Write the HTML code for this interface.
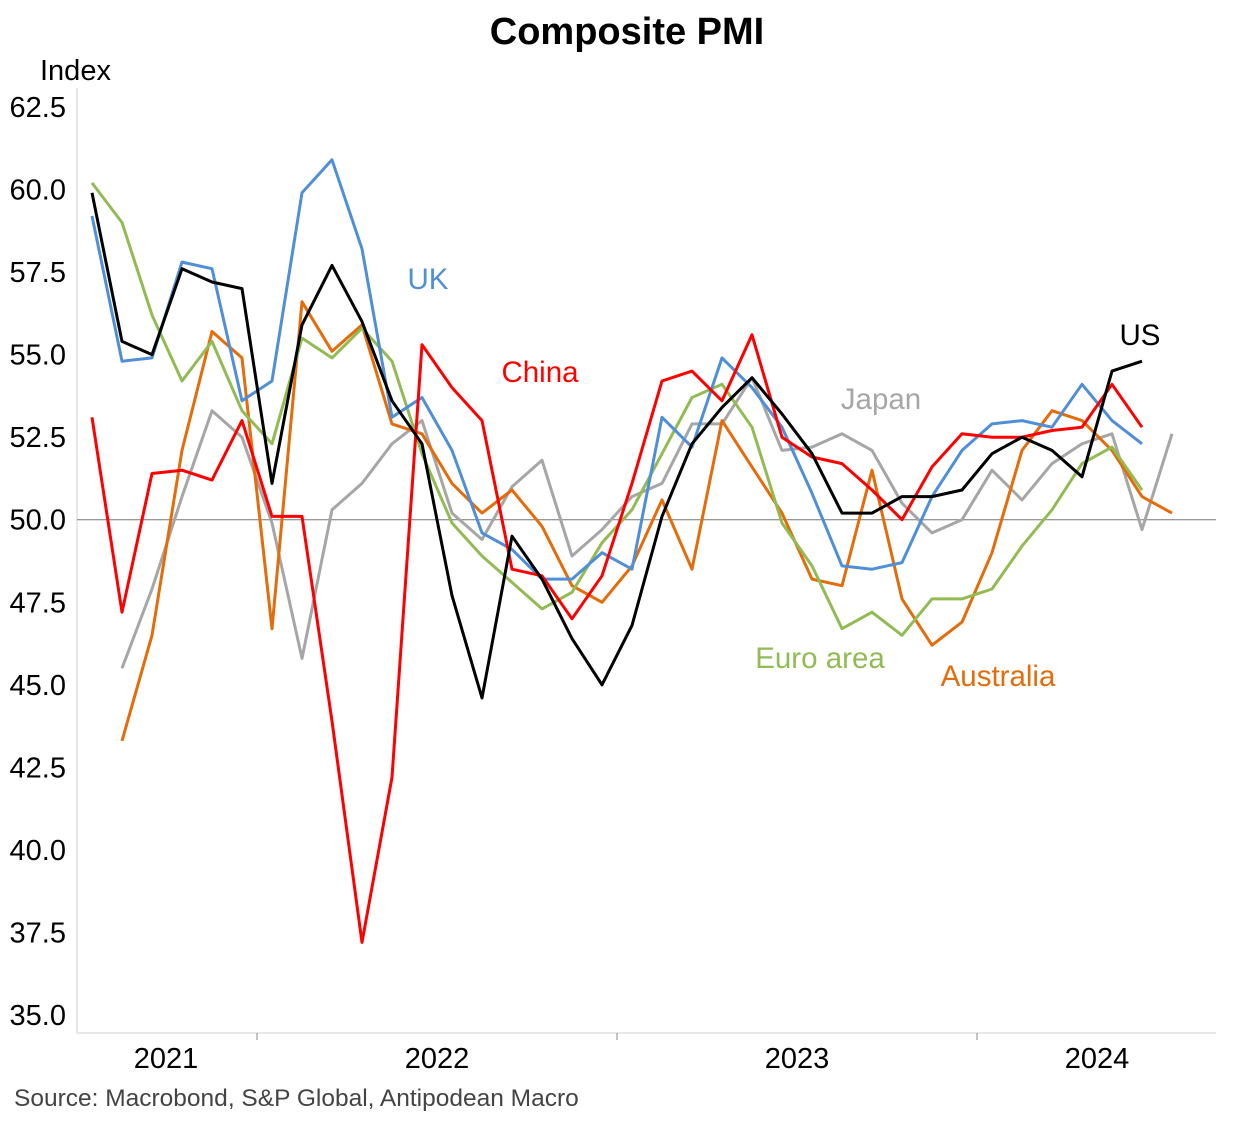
<!DOCTYPE html>
<html><head><meta charset="utf-8"><style>
body{margin:0;background:#fff;}
svg{display:block;font-family:"Liberation Sans",Arial,sans-serif;}
</style></head><body>
<svg id="chart" width="1253" height="1122">
<text x="627" y="44" text-anchor="middle" font-size="38" font-weight="bold">Composite PMI</text>
<text x="40" y="80" font-size="29">Index</text>
<text x="14" y="1106" font-size="24.5" fill="#444">Source: Macrobond, S&amp;P Global, Antipodean Macro</text>
<g id="axes"></g>
<g id="series"></g>
<g id="labels"></g>
</svg>
<script>
const yTicks=[35,37.5,40,42.5,45,47.5,50,52.5,55,57.5,60,62.5];
const yearLabels=["2021","2022","2023","2024"];
const ukVals=[59.2,54.8,54.9,57.8,57.6,53.6,54.2,59.9,60.9,58.2,53.1,53.7,52.1,49.6,49.1,48.2,48.2,49.0,48.5,53.1,52.2,54.9,54.0,52.8,50.8,48.6,48.5,48.7,50.7,52.1,52.9,53.0,52.8,54.1,53.0,52.3];
const usVals=[59.9,55.4,55.0,57.6,57.2,57.0,51.1,55.9,57.7,56.0,53.6,52.3,47.7,44.6,49.5,48.2,46.4,45.0,46.8,50.1,52.3,53.4,54.3,53.2,52.0,50.2,50.2,50.7,50.7,50.9,52.0,52.5,52.1,51.3,54.5,54.8];
const euroVals=[60.2,59.0,56.2,54.2,55.4,53.3,52.3,55.5,54.9,55.8,54.8,52.0,49.9,48.9,48.1,47.3,47.8,49.3,50.3,52.0,53.7,54.1,52.8,49.9,48.6,46.7,47.2,46.5,47.6,47.6,47.9,49.2,50.3,51.7,52.2,50.9];
const chinaVals=[53.1,47.2,51.4,51.5,51.2,53.0,50.1,50.1,43.9,37.2,42.2,55.3,54.0,53.0,48.5,48.3,47.0,48.3,51.1,54.2,54.5,53.6,55.6,52.5,51.9,51.7,50.9,50.0,51.6,52.6,52.5,52.5,52.7,52.8,54.1,52.8];
const japanVals=[null,45.5,47.9,50.7,53.3,52.5,49.9,45.8,50.3,51.1,52.3,53.0,50.2,49.4,51.0,51.8,48.9,49.7,50.7,51.1,52.9,52.9,54.3,52.1,52.2,52.6,52.1,50.5,49.6,50.0,51.5,50.6,51.7,52.3,52.6,49.7,52.6];
const ausVals=[null,43.3,46.5,52.1,55.7,54.9,46.7,56.6,55.1,55.9,52.9,52.6,51.1,50.2,50.9,49.8,48.0,47.5,48.6,50.6,48.5,53.0,51.6,50.2,48.2,48.0,51.5,47.6,46.2,46.9,49.0,52.1,53.3,53.0,52.1,50.7,50.2];
const NS="http://www.w3.org/2000/svg";
function yS(v){return 519.7-(v-50)*33.02;}
function xS(i){return 92+i*30;}
function mk(tag,attrs,parent){const e=document.createElementNS(NS,tag);for(const k in attrs)e.setAttribute(k,attrs[k]);parent.appendChild(e);return e;}
const axes=document.getElementById('axes');
const ya=mk('line',{x1:77,y1:88,x2:77,y2:1033,stroke:'#d0d0d0','stroke-width':1},axes);


const xa=mk('line',{x1:77,y1:1033,x2:1216,y2:1033,stroke:'#d0d0d0','stroke-width':1},axes);


yTicks.forEach(v=>{
 const t=mk('text',{x:66,y:yS(v)+10,'text-anchor':'end','font-size':29},axes);
 t.textContent=v.toFixed(1);
 
 
});
const zl=mk('line',{x1:77,y1:yS(50),x2:1216,y2:yS(50),stroke:'#777','stroke-width':1},axes);


[6,18,30].forEach(i=>{
 const l=mk('line',{x1:xS(i)-15,y1:1033,x2:xS(i)-15,y2:1040,stroke:'#888','stroke-width':1},axes);
 
 
});
const yearCenters=[166,437,797,1097];
yearLabels.forEach((y,i)=>{
 const t=mk('text',{x:yearCenters[i],y:1068,'text-anchor':'middle','font-size':29},axes);
 t.textContent=y;
 
 
});
const series=[
 ['japan',japanVals,'#a6a6a6'],['australia',ausVals,'#e46c0a'],['euro-area',euroVals,'#92bb53'],
 ['uk',ukVals,'#4f8fd8'],['china',chinaVals,'#ff0000'],['us',usVals,'#000000']];
const sg=document.getElementById('series');
series.forEach(([n,vals,c])=>{
 let d='';vals.forEach((v,i)=>{if(v===null)return;d+=(d?'L':'M')+xS(i)+','+yS(v).toFixed(1);});
 const p=mk('path',{d:d,fill:'none',stroke:c,'stroke-width':3,'stroke-linejoin':'round'},sg);
 
 
});
const labs=[['UK',428,289,'#4f8fd8'],['China',540,382,'#ff0000'],['Japan',881,409,'#a6a6a6'],['US',1140,345,'#000'],['Euro area',820,668,'#92bb53'],['Australia',998,686,'#e46c0a']];
const lg=document.getElementById('labels');
labs.forEach(([t,x,y,c])=>{
 const e=mk('text',{x:x,y:y,'text-anchor':'middle','font-size':29.5,fill:c},lg);
 e.textContent=t;
 
 
});
</script>
</body></html>
